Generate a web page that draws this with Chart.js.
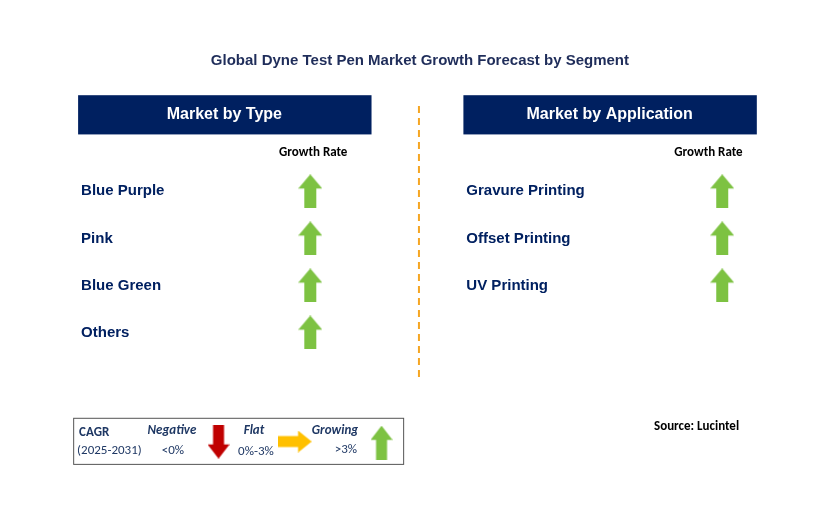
<!DOCTYPE html>
<html><head><meta charset="utf-8">
<script src="https://cdn.jsdelivr.net/npm/chart.js@4"></script>
<style>body{margin:0;background:#fff}canvas{display:block}</style>
</head><body>
<canvas id="c" width="829" height="513"></canvas>
<script>
// segment data
const typeSegments = ['Blue Purple', 'Pink', 'Blue Green', 'Others'];
const typeGrowth = ['growing', 'growing', 'growing', 'growing'];
const appSegments = ['Gravure Printing', 'Offset Printing', 'UV Printing'];
const appGrowth = ['growing', 'growing', 'growing'];
const rowY = [190, 238, 286, 334];

const NAVY = '#002060';
function arrowImg(dir, color, w, h) {
    const c = document.createElement('canvas');
    c.width = w; c.height = h;
    const g = c.getContext('2d');
    g.fillStyle = color;
    g.beginPath();
    if (dir === 'up') {
        const hh = h * 0.42, s = w * 0.25;
        g.moveTo(w / 2, 0); g.lineTo(w, hh); g.lineTo(w - s, hh); g.lineTo(w - s, h);
        g.lineTo(s, h); g.lineTo(s, hh); g.lineTo(0, hh);
    } else if (dir === 'down') {
        const hh = h * 0.42, s = w * 0.25;
        g.moveTo(w / 2, h); g.lineTo(w, h - hh); g.lineTo(w - s, h - hh); g.lineTo(w - s, 0);
        g.lineTo(s, 0); g.lineTo(s, h - hh); g.lineTo(0, h - hh);
    } else {
        const hw = w * 0.4, s = h * 0.25;
        g.moveTo(w, h / 2); g.lineTo(w - hw, 0); g.lineTo(w - hw, s); g.lineTo(0, s);
        g.lineTo(0, h - s); g.lineTo(w - hw, h - s); g.lineTo(w - hw, h);
    }
    g.closePath(); g.fill();
    return c;
}
const greenUp = arrowImg('up', '#7dc242', 24, 34);
const styleFor = {growing: greenUp};

const overlay = {
    id: 'overlay',
    beforeDatasetsDraw(chart) {
        const g = chart.ctx, X = chart.scales.x, Y = chart.scales.y;
        const px = v => X.getPixelForValue(v), py = v => Y.getPixelForValue(v);
        g.save();
        g.textBaseline = 'middle';
        g.fillStyle = '#1f2d5a';
        g.font = 'bold 15px Arial, "Liberation Sans"';
        g.textAlign = 'center';
        g.fillText('Global Dyne Test Pen Market Growth Forecast by Segment', px(420), py(57));
        // header boxes
        [[74, 'Market by Type'], [464, 'Market by Application']].forEach(function(h) {
            g.fillStyle = NAVY;
            g.fillRect(px(h[0]), py(92), px(h[0] + 297) - px(h[0]), py(132) - py(92));
            g.fillStyle = '#fff';
            g.font = 'bold 16px Arial, "Liberation Sans"';
            g.fillText(h[1], px(h[0] + 148), py(112));
        });
        g.fillStyle = '#000';
        g.font = 'bold 13px Calibri, Carlito, Arial';
        g.fillText('Growth Rate', px(312), py(151));
        g.fillText('Growth Rate', px(712), py(151));
        // dashed divider
        g.strokeStyle = '#f5a623'; g.lineWidth = 2; g.setLineDash([7, 5]);
        g.beginPath(); g.moveTo(px(419), py(103)); g.lineTo(px(419), py(380)); g.stroke();
        g.setLineDash([]);
        // segment labels
        g.textAlign = 'left';
        g.fillStyle = NAVY;
        g.font = 'bold 15px Arial, "Liberation Sans"';
        typeSegments.forEach((s, i) => g.fillText(s, px(77), py(rowY[i])));
        appSegments.forEach((s, i) => g.fillText(s, px(467), py(rowY[i])));
        // legend
        g.strokeStyle = '#555'; g.lineWidth = 1;
        g.strokeRect(px(69) + 0.5, py(421) + 0.5, px(403) - px(69), py(468) - py(421));
        g.fillStyle = '#1f3864';
        g.font = 'bold 13px Calibri, Carlito, Arial';
        g.fillText('CAGR', px(75), py(436));
        g.font = '13px Calibri, Carlito, Arial';
        g.fillText('(2025-2031)', px(73), py(455));
        g.textAlign = 'center';
        g.font = 'italic bold 13px Calibri, Carlito, Arial';
        g.fillText('Negative', px(169), py(434));
        g.fillText('Flat', px(252), py(434));
        g.fillText('Growing', px(334), py(434));
        g.font = '13px Calibri, Carlito, Arial';
        g.fillText('<0%', px(170), py(455));
        g.fillText('0%-3%', px(254), py(456));
        g.fillText('>3%', px(345), py(454));
        g.drawImage(arrowImg('down', '#c00000', 22, 34), px(205), py(428));
        g.drawImage(arrowImg('right', '#ffc000', 34, 22), px(276), py(434));
        g.drawImage(arrowImg('up', '#7dc242', 22, 34), px(370), py(429));
        g.fillStyle = '#000';
        g.font = 'bold 13px Calibri, Carlito, Arial';
        g.fillText('Source: Lucintel', px(700), py(430));
        g.restore();
    }
};

new Chart(document.getElementById('c'), {
    type: 'scatter',
    data: {
        datasets: [{
            label: 'Type',
            data: typeSegments.map((s, i) => ({x: 309, y: rowY[i]})),
            pointStyle: typeGrowth.map(k => styleFor[k])
        }, {
            label: 'Application',
            data: appSegments.map((s, i) => ({x: 726, y: rowY[i]})),
            pointStyle: appGrowth.map(k => styleFor[k])
        }]
    },
    options: {
        responsive: false,
        animation: false,
        devicePixelRatio: 1,
        layout: {padding: 0},
        plugins: {legend: {display: false}, tooltip: {enabled: false}},
        scales: {
            x: {type: 'linear', min: 0, max: 829, display: false},
            y: {type: 'linear', min: 0, max: 513, reverse: true, display: false}
        }
    },
    plugins: [overlay]
});
</script>
</body></html>
